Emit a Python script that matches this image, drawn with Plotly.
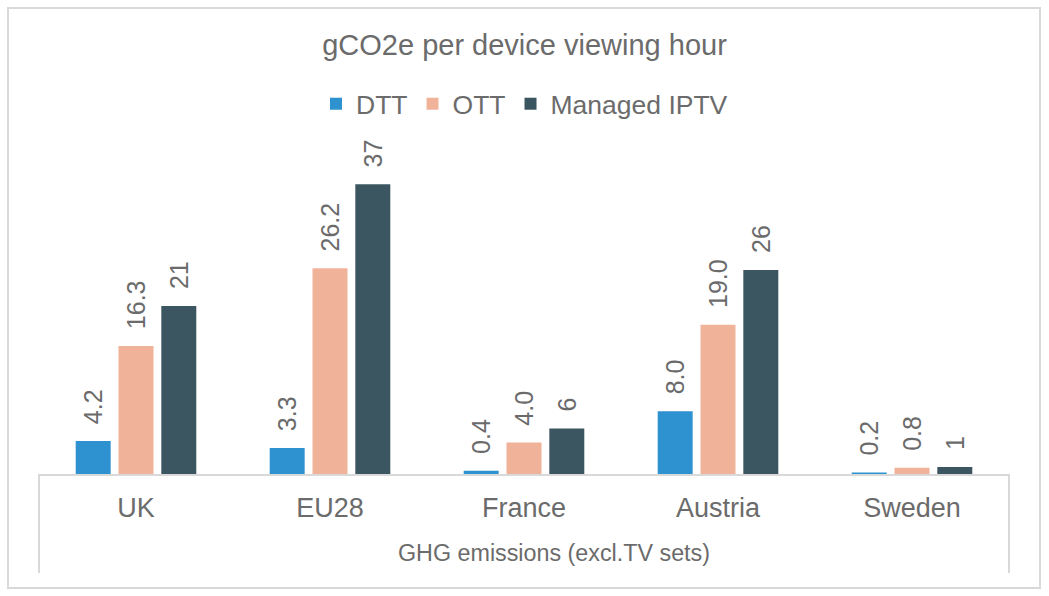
import plotly.graph_objects as go

categories = ["UK", "EU28", "France", "Austria", "Sweden"]
dtt = [4.2, 3.3, 0.4, 8.0, 0.2]
ott = [16.3, 26.2, 4.0, 19.0, 0.8]
iptv = [21.4, 36.9, 5.8, 26.0, 0.9]
series_names = ["DTT", "OTT", "Managed IPTV"]
label_formats = ["%{y:.1f}", "%{y:.1f}", "%{y:.0f}"]
colors = ["#2E91D0", "#F0B39A", "#3B5660"]

title_text = "gCO2e per device viewing hour"
axis_title = "GHG emissions (excl.TV sets)"

FONT = "Liberation Sans, Arial, sans-serif"
TXT = "#6b6b6b"
GRID = "#d9d9d9"

W, H = 1049, 596
ML, MR, MT, MB = 39, 40, 160, 122
pw, ph = W - ML - MR, H - MT - MB

def px_x(x):
    return (x - ML) / pw

def px_y(y):
    return (H - MB - y) / ph

fig = go.Figure()
for name, vals, fmt, col in zip(series_names, [dtt, ott, iptv], label_formats, colors):
    fig.add_trace(go.Bar(
        name=name, x=categories, y=vals,
        marker=dict(color=col, line=dict(width=0)),
        texttemplate="\u00a0\u00a0" + fmt,
        textposition="outside",
        textangle=-90,
        constraintext="none",
        cliponaxis=False,
        textfont=dict(family=FONT, size=25, color=TXT),
        hoverinfo="skip",
    ))

shapes = [
    # outer chart border
    dict(type="rect", xref="paper", yref="paper",
         x0=px_x(8), x1=px_x(1040), y0=px_y(588), y1=px_y(8),
         line=dict(color=GRID, width=2), fillcolor="rgba(0,0,0,0)", layer="below"),
    # category box verticals
    dict(type="line", xref="paper", yref="paper", x0=0, x1=0, y0=0, y1=px_y(573),
         line=dict(color=GRID, width=2)),
    dict(type="line", xref="paper", yref="paper", x0=1, x1=1, y0=0, y1=px_y(573),
         line=dict(color=GRID, width=2)),
]

annotations = [
    dict(text=axis_title, xref="paper", yref="paper", x=px_x(554), y=px_y(553),
         xanchor="center", yanchor="middle", showarrow=False,
         font=dict(family=FONT, size=23.3, color=TXT)),
]

fig.update_layout(
    width=W, height=H,
    margin=dict(l=ML, r=MR, t=MT, b=MB, autoexpand=False),
    paper_bgcolor="white", plot_bgcolor="white",
    barmode="group", bargap=0.338, bargroupgap=0.183,
    font=dict(family=FONT, color=TXT),
    title=dict(text=title_text, x=0.5, xanchor="center", y=1 - 45 / H, yanchor="middle",
               yref="container", font=dict(family=FONT, size=29, color=TXT)),
    legend=dict(orientation="h", x=0.5, xanchor="center", y=1 - 104 / H, yanchor="middle",
                yref="container", xref="container",
                font=dict(family=FONT, size=26.5, color=TXT), itemwidth=30,
                traceorder="normal"),
    showlegend=True,
    shapes=shapes,
    annotations=annotations,
    xaxis=dict(type="category", showline=True, linecolor=GRID, linewidth=2,
               ticks="outside", ticklen=9, tickcolor="rgba(0,0,0,0)",
               tickfont=dict(family=FONT, size=27, color=TXT),
               showgrid=False, automargin=False),
    yaxis=dict(range=[0, 40], visible=False, showgrid=False, zeroline=False, fixedrange=True),
)

fig.write_html(
    "out.html",
    config={"displayModeBar": False, "staticPlot": True},
    post_script="document.body.style.margin='0';document.body.style.padding='0';",
)
